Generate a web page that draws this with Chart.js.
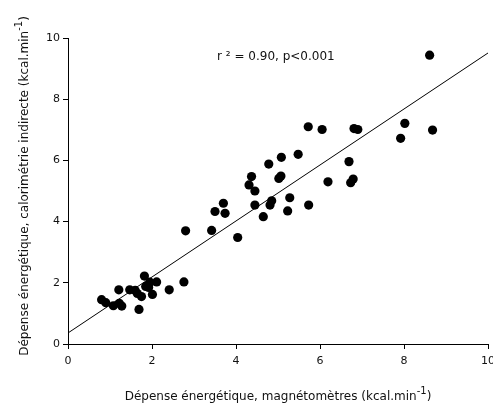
<!DOCTYPE html>
<html>
<head>
<meta charset="utf-8">
<script src="https://cdn.jsdelivr.net/npm/chart.js@4.4.1/dist/chart.umd.min.js"></script>
<style>
  body { margin: 0; background: #fff; }
  #wrap { width: 493px; height: 410px; }
</style>
</head>
<body>
<div id="wrap"><canvas id="eeChart" width="493" height="410"></canvas></div>
<script>
// magnetometer estimate (x) vs indirect calorimetry (y), kcal/min
const magnetoX = [0.80, 0.90, 1.08, 1.22, 1.28, 1.21, 1.47, 1.60, 1.65, 1.75,
                  1.69, 1.82, 1.85, 1.92, 1.95, 2.01, 2.11, 2.41, 2.76, 2.80,
                  3.42, 3.50, 3.70, 3.74, 4.04, 4.31, 4.37, 4.45, 4.45, 4.65,
                  4.81, 4.85, 4.78, 5.02, 5.07, 5.08, 5.23, 5.28, 5.48, 5.72,
                  5.73, 6.05, 6.19, 6.69, 6.73, 6.79, 6.81, 6.90, 7.92, 8.02,
                  8.61, 8.68];
const caloY = [1.45, 1.35, 1.25, 1.33, 1.24, 1.77, 1.77, 1.75, 1.65, 1.55,
               1.13, 2.22, 1.88, 1.85, 2.02, 1.62, 2.03, 1.77, 2.03, 3.70,
               3.71, 4.33, 4.60, 4.27, 3.48, 5.20, 5.47, 5.00, 4.54, 4.16,
               4.54, 4.68, 5.88, 5.41, 5.49, 6.10, 4.35, 4.78, 6.20, 7.10,
               4.54, 7.01, 5.30, 5.96, 5.27, 5.39, 7.04, 7.01, 6.72, 7.21,
               9.44, 6.99];

// regression line end points
const fitX = [0, 10];
const fitY = [0.36, 9.51];

const xTicks = [0, 2, 4, 6, 8, 10];
const yTicks = [0, 2, 4, 6, 8, 10];

const xTitle = ['Dépense énergétique, magnétomètres (kcal.min', '-1', ')'];
const yTitle = ['Dépense énergétique, calorimétrie indirecte (kcal.min', '-1', ')'];
const statsText = 'r ² = 0.90, p<0.001';

const FONT = '"DejaVu Sans", Verdana, sans-serif';

function toPoints(xs, ys) {
    return xs.map((x, i) => ({ x: x, y: ys[i] }));
}

// text with a superscript part, centred on (0,0)
function drawSupText(ctx, parts) {
    const main = '12px ' + FONT;
    const sup = '10px ' + FONT;
    ctx.font = main;
    const w0 = ctx.measureText(parts[0]).width;
    const w2 = ctx.measureText(parts[2]).width;
    ctx.font = sup;
    const w1 = ctx.measureText(parts[1]).width;
    let x = -(w0 + w1 + w2) / 2;
    ctx.textAlign = 'left';
    ctx.textBaseline = 'middle';
    ctx.font = main;
    ctx.fillText(parts[0], x, 0);
    x += w0;
    ctx.font = sup;
    ctx.fillText(parts[1], x, -6);
    x += w1;
    ctx.font = main;
    ctx.fillText(parts[2], x, 0);
}

const titlesPlugin = {
    id: 'titles',
    afterDraw(chart) {
        const ctx = chart.ctx;
        const xs = chart.scales.x, ys = chart.scales.y;
        ctx.save();
        ctx.fillStyle = '#111';
        // x axis title
        ctx.save();
        ctx.translate((chart.chartArea.left + chart.chartArea.right) / 2, 397);
        drawSupText(ctx, xTitle);
        ctx.restore();
        // y axis title
        ctx.save();
        ctx.translate(25, 186);
        ctx.rotate(-Math.PI / 2);
        drawSupText(ctx, yTitle);
        ctx.restore();
        // r² label
        ctx.font = '12px ' + FONT;
        ctx.textAlign = 'center';
        ctx.textBaseline = 'middle';
        ctx.fillText(statsText, xs.getPixelForValue(4.95), ys.getPixelForValue(9.37));
        ctx.restore();
    }
};

const ctx = document.getElementById('eeChart').getContext('2d');
const chart = new Chart(ctx, {
    type: 'scatter',
    data: {
        datasets: [{
            label: 'Mesures',
            data: toPoints(magnetoX, caloY),
            backgroundColor: '#000',
            borderColor: '#000',
            borderWidth: 0,
            pointRadius: 4.6,
            pointHoverRadius: 4.6
        },
        {
            type: 'line',
            label: 'Régression',
            data: toPoints(fitX, fitY),
            borderColor: '#000',
            borderWidth: 1,
            pointRadius: 0,
            fill: false
        }]
    },
    options: {
        responsive: false,
        animation: false,
        layout: {
            padding: { left: 0, right: 5, top: 38, bottom: 0 }
        },
        plugins: {
            legend: { display: false },
            tooltip: { enabled: false }
        },
        scales: {
            x: {
                type: 'linear',
                min: 0,
                max: 10,
                afterBuildTicks: (s) => { s.ticks = xTicks.map(v => ({ value: v })); },
                afterFit: (s) => { s.height = 66; s.paddingLeft = 0; s.paddingRight = 0; },
                ticks: {
                    color: '#111',
                    font: { family: FONT, size: 11 },
                    padding: 6,
                    maxRotation: 0
                },
                grid: {
                    drawOnChartArea: false,
                    drawTicks: true,
                    tickLength: 5,
                    color: '#000'
                },
                border: { color: '#000', width: 1 }
            },
            y: {
                type: 'linear',
                min: 0,
                max: 10,
                afterBuildTicks: (s) => { s.ticks = yTicks.map(v => ({ value: v })); },
                afterFit: (s) => { s.width = 68; s.paddingTop = 0; s.paddingBottom = 0; },
                ticks: {
                    color: '#111',
                    font: { family: FONT, size: 11 },
                    padding: 3
                },
                grid: {
                    drawOnChartArea: false,
                    drawTicks: true,
                    tickLength: 5,
                    color: '#000'
                },
                border: { color: '#000', width: 1 }
            }
        }
    },
    plugins: [titlesPlugin]
});
</script>
</body>
</html>
